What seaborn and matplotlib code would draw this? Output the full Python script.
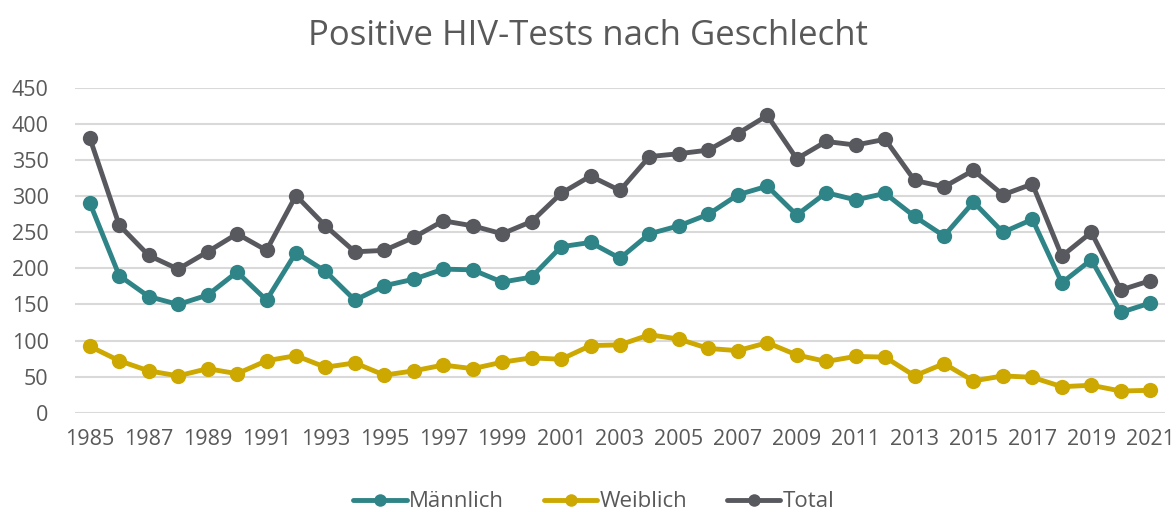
import numpy as np
import pandas as pd
import seaborn as sns
import matplotlib.pyplot as plt

# Daten
jahre = list(range(1985, 2022))
maennlich = [291, 190, 161, 150, 163, 195, 156, 222, 196, 156, 176, 185, 199,
             198, 181, 188, 230, 236, 214, 248, 259, 275, 302, 314, 274, 305,
             295, 304, 272, 245, 292, 250, 268, 180, 212, 139, 152]
weiblich = [92, 72, 58, 51, 61, 54, 72, 79, 63, 69, 52, 58, 66,
            61, 70, 76, 74, 93, 94, 108, 102, 89, 86, 97, 80, 71,
            78, 77, 51, 68, 44, 51, 49, 36, 38, 30, 31]
total = [381, 260, 218, 199, 223, 248, 225, 301, 259, 223, 225, 243, 266,
         259, 248, 265, 304, 328, 308, 355, 359, 364, 387, 412, 352, 376,
         371, 379, 322, 313, 336, 302, 317, 217, 250, 170, 183]

df = pd.DataFrame({
    'Jahr': jahre * 3,
    'Anzahl': maennlich + weiblich + total,
    'Geschlecht': ['Männlich'] * 37 + ['Weiblich'] * 37 + ['Total'] * 37,
})

farben = {'Männlich': '#2E8486', 'Weiblich': '#CCA800', 'Total': '#58585F'}

sns.set_style('white')
plt.rcParams['font.family'] = ['Open Sans', 'DejaVu Sans']
grau = '#595959'

fig = plt.figure(figsize=(11.76, 5.12), dpi=100)
ax = fig.add_axes([0.0638, 0.194, 0.9268, 0.634])

sns.lineplot(data=df, x='Jahr', y='Anzahl', hue='Geschlecht', palette=farben,
             marker='o', markersize=11, markeredgewidth=0, linewidth=3.5, ax=ax)

ax.set_xlim(1984.5, 2021.5)
ax.set_ylim(0, 450)
ax.set_yticks(np.arange(0, 451, 50))
ax.set_xticks(jahre[::2])
ax.grid(axis='y', color='#d9d9d9', linewidth=1.5)
ax.set_axisbelow(True)
for s in ax.spines.values():
    s.set_visible(False)
ax.tick_params(axis='both', length=0, labelsize=15.5, colors=grau)
ax.tick_params(axis='y', pad=19)
ax.tick_params(axis='x', pad=12)
ax.set_xlabel('')
ax.set_ylabel('')

fig.suptitle('Positive HIV-Tests nach Geschlecht', y=0.962, fontsize=25, color=grau)

handles, labels = ax.get_legend_handles_labels()
ax.legend_.remove()
for h in handles:
    h.set_markersize(9)
fig.legend(handles, labels, loc='lower center', bbox_to_anchor=(0.505, -0.04), ncol=3,
           frameon=False, fontsize=16, labelcolor=grau, handlelength=2.4,
           handletextpad=0.1, columnspacing=1.8)

plt.savefig('out.png', dpi=100)
